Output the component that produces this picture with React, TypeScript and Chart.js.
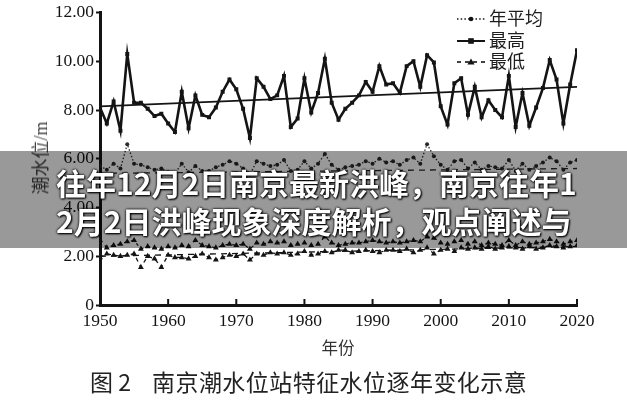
import React, { useEffect, useRef } from "react";
import { Chart, registerables } from "chart.js";

Chart.register(...registerables);

const years = [
  1950, 1951, 1952, 1953, 1954, 1955, 1956, 1957, 1958, 1959,
  1960, 1961, 1962, 1963, 1964, 1965, 1966, 1967, 1968, 1969,
  1970, 1971, 1972, 1973, 1974, 1975, 1976, 1977, 1978, 1979,
  1980, 1981, 1982, 1983, 1984, 1985, 1986, 1987, 1988, 1989,
  1990, 1991, 1992, 1993, 1994, 1995, 1996, 1997, 1998, 1999,
  2000, 2001, 2002, 2003, 2004, 2005, 2006, 2007, 2008, 2009,
  2010, 2011, 2012, 2013, 2014, 2015, 2016, 2017, 2018, 2019,
  2020,
];

const highValues = [
  8.1, 7.45, 8.35, 7.15, 10.3, 8.3, 8.3, 8.05, 7.75, 7.85,
  7.45, 7.1, 8.75, 7.25, 8.6, 7.8, 7.7, 8.1, 8.75, 9.25,
  8.85, 8.05, 6.85, 9.3, 8.95, 8.45, 8.6, 9.4, 7.3, 7.65,
  9.3, 7.9, 8.7, 10.1, 8.3, 7.6, 8.05, 8.3, 8.6, 9.15,
  8.75, 9.8, 9.05, 9.1, 8.7, 9.8, 10.0, 8.95, 10.25, 9.95,
  8.15, 7.4, 9.1, 9.3, 7.8, 8.95, 7.7, 8.4, 8.0, 7.7,
  9.4, 7.3, 8.7, 7.35, 8.1, 8.9, 10.05, 9.25, 7.45, 9.05,
  10.45,
];

const meanValues = [
  5.7, 5.55, 5.8, 5.6, 6.6, 5.8, 5.75, 5.65, 5.55, 5.6,
  5.45, 5.4, 5.8, 5.45, 5.7, 5.5, 5.5, 5.65, 5.75, 5.9,
  5.8, 5.6, 5.35, 5.9, 5.8, 5.7, 5.75, 5.95, 5.5, 5.55,
  5.9, 5.6, 5.8, 6.2, 5.75, 5.55, 5.65, 5.7, 5.75, 5.9,
  5.8, 6.0, 5.85, 5.9, 5.75, 5.95, 6.05, 5.8, 6.6, 6.1,
  5.75, 5.55, 5.9, 5.95, 5.6, 5.85, 5.55, 5.7, 5.65, 5.6,
  5.95, 5.5, 5.8, 5.55, 5.7, 5.85, 6.05, 5.9, 5.55, 5.85,
  5.95,
];

const lowValues = [
  1.95, 2.1, 2.05, 2.0, 2.05, 2.1, 1.55, 2.0, 1.9, 1.55,
  2.05, 1.95, 1.95, 1.9, 2.0, 2.1, 1.95, 1.85, 1.95, 2.05,
  2.0, 2.1, 1.85, 2.1, 2.05, 2.15, 2.1, 2.15, 2.05, 2.1,
  2.2, 2.05, 2.1, 2.2, 2.15, 2.25, 2.25, 2.15, 2.2, 2.25,
  2.2, 2.15, 2.25, 2.25, 2.2, 2.3, 2.15, 2.25, 2.35, 2.1,
  2.25, 2.3, 2.2, 2.35, 2.3, 2.35, 2.3, 2.4, 2.3, 2.35,
  2.4, 2.35, 2.3, 2.4, 2.3, 2.35, 2.45, 2.4, 2.35, 2.4,
  2.45,
];

const lowUpperValues = [
  2.65, 2.35, 2.45, 2.5, 2.6, 2.65, 2.3, 2.4, 2.35, 2.3,
  2.4, 2.35, 2.45, 2.4, 2.65, 2.45, 2.4, 2.35, 2.45, 2.5,
  2.45, 2.5, 2.3, 2.55, 2.5, 2.6, 2.55, 2.6, 2.45, 2.5,
  2.55, 2.45, 2.5, 2.8, 2.55, 2.45, 2.5, 2.55, 2.55, 2.6,
  2.65, 2.6, 2.55, 2.6, 2.55, 2.6, 2.65, 2.6, 2.8, 2.75,
  2.55, 2.5, 2.6, 2.65, 2.5, 2.6, 2.45, 2.55, 2.5, 2.45,
  2.65, 2.45, 2.6, 2.5, 2.55, 2.6, 2.7, 2.6, 2.5, 2.6,
  2.65,
];

const trendYears = [1950, 2020];
const highTrend = [8.15, 8.95];
const meanTrend = [5.4, 5.6];
const lowTrend = [2.0, 2.4];

const xTicks = [1950, 1960, 1970, 1980, 1990, 2000, 2010, 2020];
const legendLabels = ["年平均", "最高", "最低"];

const xTitle = "年份";
const yTitle = "潮水位/m";
const captionNum = "图 2";
const captionText = "南京潮水位站特征水位逐年变化示意";
const bannerLine1 = "往年12月2日南京最新洪峰，南京往年1";
const bannerLine2 = "2月2日洪峰现象深度解析，观点阐述与";

const INK = "#141414";
const SERIF = "Liberation Serif, DejaVu Serif, serif";

function pts(xs: number[], ys: number[]) {
  return xs.map((x, i) => ({ x, y: ys[i] }));
}

function drawMarker(ctx: CanvasRenderingContext2D, kind: string, x: number, y: number) {
  ctx.save();
  ctx.fillStyle = INK;
  ctx.setLineDash([]);
  if (kind === "circle") {
    ctx.beginPath();
    ctx.arc(x, y, 2.3, 0, Math.PI * 2);
    ctx.fill();
  } else if (kind === "rect") {
    ctx.fillRect(x - 2.8, y - 2.8, 5.6, 5.6);
  } else {
    ctx.beginPath();
    ctx.moveTo(x, y - 3.6);
    ctx.lineTo(x + 3.6, y + 2.6);
    ctx.lineTo(x - 3.6, y + 2.6);
    ctx.closePath();
    ctx.fill();
  }
  ctx.restore();
}

const customPlugin = {
  id: "customDecor",
  afterDraw(chart: any) {
    const ctx: CanvasRenderingContext2D = chart.ctx;
    const xs = chart.scales.x;
    const area = chart.chartArea;
    ctx.save();
    ctx.strokeStyle = INK;
    ctx.lineWidth = 2;
    xTicks.forEach((t) => {
      const px = xs.getPixelForValue(t);
      ctx.beginPath();
      ctx.moveTo(px, area.bottom);
      ctx.lineTo(px, area.bottom - 6);
      ctx.stroke();
    });
    ctx.restore();

    const items = [
      { label: legendLabels[0], dash: [1.5, 2.2], width: 1.4, marker: "circle" },
      { label: legendLabels[1], dash: [], width: 2, marker: "rect" },
      { label: legendLabels[2], dash: [4, 4], width: 1.6, marker: "triangle" },
    ];
    const x0 = 457;
    const x1 = 485;
    const ys = [19, 41, 62];
    items.forEach((it, i) => {
      const y = ys[i];
      ctx.save();
      ctx.strokeStyle = INK;
      ctx.lineWidth = it.width;
      ctx.setLineDash(it.dash);
      ctx.beginPath();
      ctx.moveTo(x0, y);
      ctx.lineTo(x1, y);
      ctx.stroke();
      ctx.restore();
      drawMarker(ctx, it.marker, (x0 + x1) / 2, y);
      ctx.save();
      ctx.fillStyle = "#1e1e1e";
      ctx.font = "18px Liberation Serif, Noto Sans CJK SC, serif";
      ctx.textBaseline = "middle";
      ctx.textAlign = "left";
      ctx.fillText(it.label, 489, y + 1);
      ctx.restore();
    });
  },
};

export default function App() {
  const canvasRef = useRef<HTMLCanvasElement | null>(null);

  useEffect(() => {
    document.body.style.margin = "0";
    const canvas = canvasRef.current;
    if (!canvas) return;
    const tickFont = { family: SERIF, size: 17.5 };
    const chart = new Chart(canvas, {
      type: "line",
      data: {
        datasets: [
          {
            label: legendLabels[1],
            data: pts(years, highValues),
            borderColor: INK,
            backgroundColor: INK,
            borderWidth: 2.6,
            pointStyle: "rect",
            pointRadius: 2.8,
            pointBorderWidth: 0,
            tension: 0,
          },
          {
            label: "highTrend",
            data: pts(trendYears, highTrend),
            borderColor: INK,
            borderWidth: 1.8,
            pointRadius: 0,
          },
          {
            label: legendLabels[0],
            data: pts(years, meanValues),
            borderColor: "#2a2a2a",
            backgroundColor: "#2a2a2a",
            borderWidth: 1.3,
            borderDash: [1.5, 2],
            pointStyle: "circle",
            pointRadius: 2,
            pointBorderWidth: 0,
          },
          {
            label: "meanTrend",
            data: pts(trendYears, meanTrend),
            borderColor: "#2a2a2a",
            borderWidth: 1.3,
            borderDash: [6, 5],
            pointRadius: 0,
          },
          {
            label: "lowUpper",
            data: pts(years, lowUpperValues),
            borderColor: INK,
            backgroundColor: INK,
            borderWidth: 1.2,
            borderDash: [3, 4],
            pointStyle: "triangle",
            pointRadius: 3.4,
            pointBorderWidth: 0,
          },
          {
            label: legendLabels[2],
            data: pts(years, lowValues),
            borderColor: INK,
            backgroundColor: INK,
            borderWidth: 1.3,
            borderDash: [4, 4],
            pointStyle: "triangle",
            pointRadius: 3.4,
            pointBorderWidth: 0,
          },
          {
            label: "lowTrend",
            data: pts(trendYears, lowTrend),
            borderColor: INK,
            borderWidth: 1.3,
            borderDash: [6, 5],
            pointRadius: 0,
          },
        ],
      },
      options: {
        animation: false,
        responsive: false,
        devicePixelRatio: 1,
        layout: { padding: { top: 11, right: 50, left: 0, bottom: 0 } },
        plugins: {
          legend: { display: false },
          tooltip: { enabled: false },
        },
        scales: {
          x: {
            type: "linear",
            min: 1950,
            max: 2020,
            afterFit: (s: any) => {
              s.height = 95;
            },
            ticks: {
              stepSize: 10,
              color: INK,
              font: tickFont,
              padding: 6,
              maxRotation: 0,
              callback: (v: any) => String(v),
            },
            grid: { display: true, drawOnChartArea: false, drawTicks: false },
            border: { display: true, color: INK, width: 3 },
          },
          y: {
            min: 0,
            max: 12,
            afterFit: (s: any) => {
              s.width = 100;
            },
            ticks: {
              stepSize: 2,
              color: INK,
              font: tickFont,
              padding: 2,
              callback: (v: any) => (Number(v) === 0 ? "0" : Number(v).toFixed(2)),
            },
            grid: {
              drawOnChartArea: false,
              drawTicks: true,
              tickLength: 4,
              tickWidth: 2,
              color: INK,
            },
            border: { display: true, color: INK, width: 3 },
          },
        },
      },
      plugins: [customPlugin],
    } as any);
    return () => chart.destroy();
  }, []);

  const cjk = '"Noto Sans CJK SC", "Noto Sans", sans-serif';

  return (
    <div
      style={{
        position: "fixed",
        left: 0,
        top: 0,
        width: 627,
        height: 400,
        background: "#fff",
        overflow: "hidden",
      }}
    >
      <canvas
        ref={canvasRef}
        width={627}
        height={400}
        style={{ position: "absolute", left: 0, top: 0, width: 627, height: 400 }}
      />
      <div
        style={{
          position: "absolute",
          left: 39,
          top: 158,
          transform: "translate(-50%, -50%) rotate(-90deg)",
          fontFamily: '"Liberation Serif", "Noto Sans CJK SC", serif',
          fontSize: 18,
          color: "#444",
          whiteSpace: "nowrap",
        }}
      >
        {yTitle}
      </div>
      <div
        style={{
          position: "absolute",
          left: 338,
          top: 347,
          transform: "translate(-50%, -50%)",
          fontFamily: cjk,
          fontSize: 16.5,
          color: "#333",
          whiteSpace: "nowrap",
        }}
      >
        {xTitle}
      </div>
      <div
        style={{
          position: "absolute",
          left: 90,
          top: 381,
          transform: "translateY(-50%)",
          fontFamily: cjk,
          fontSize: 23,
          color: "#222",
          whiteSpace: "nowrap",
          lineHeight: "28px",
        }}
      >
        {captionNum}
      </div>
      <div
        style={{
          position: "absolute",
          left: 152,
          top: 381,
          transform: "translateY(-50%)",
          fontFamily: cjk,
          fontSize: 23,
          letterSpacing: 0.45,
          color: "#222",
          whiteSpace: "nowrap",
          lineHeight: "28px",
        }}
      >
        {captionText}
      </div>
      <div
        style={{
          position: "absolute",
          left: 0,
          top: 151,
          width: 627,
          height: 97,
          background: "rgba(0,0,0,0.4)",
        }}
      />
      <div
        style={{
          position: "absolute",
          left: 56,
          top: 163,
          fontFamily: cjk,
          fontWeight: 700,
          fontSize: 30,
          lineHeight: "38px",
          color: "#fff",
          whiteSpace: "nowrap",
          textShadow: "0 0 2px #000, 0 0 3px rgba(0,0,0,0.8), 1px 1px 2px #000",
        }}
      >
        <div>{bannerLine1}</div>
        <div>{bannerLine2}</div>
      </div>
    </div>
  );
}
